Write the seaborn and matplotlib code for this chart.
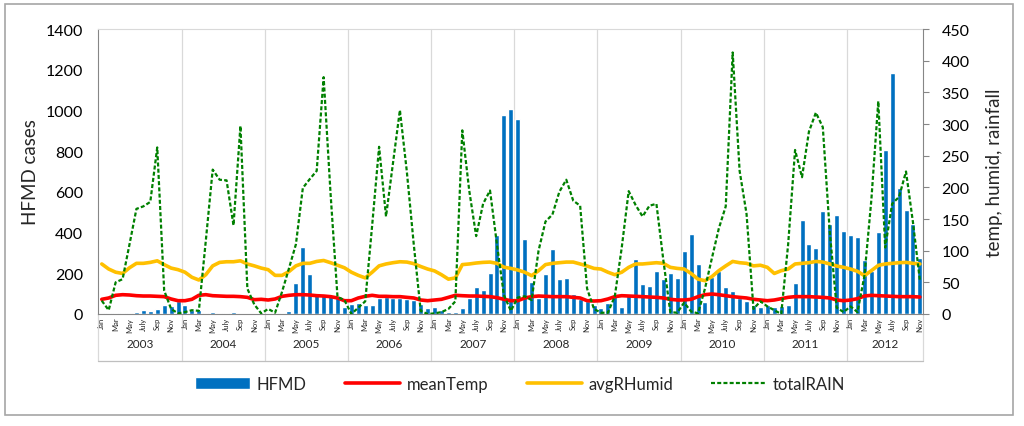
# %% HFMD cases vs weather, monthly 2003-2012 (recreated chart)
import numpy as np
import pandas as pd
import matplotlib
matplotlib.use('Agg')
import matplotlib.pyplot as plt
import matplotlib.transforms as mtransforms
from matplotlib.patches import Patch, Rectangle
from matplotlib.lines import Line2D
import seaborn as sns

# %%
# Data (2012 stops at Nov)
years = ['2003', '2004', '2005', '2006', '2007', '2008', '2009', '2010', '2011', '2012']
month_labels = ['Jan', 'Mar', 'May', 'July', 'Sep', 'Nov']

hfmd = [
    4, 3, 3, 4, 5, 12, 22, 14, 24, 45, 38, 63,            # 2003
    46, 21, 22, 3, 8, 4, 4, 10, 2, 2, 2, 2,               # 2004
    7, 5, 7, 14, 152, 329, 196, 97, 94, 90, 83, 36,       # 2005
    49, 56, 44, 44, 77, 82, 77, 77, 74, 69, 48, 28,       # 2006
    33, 20, 12, 9, 31, 79, 134, 118, 203, 386, 979, 1005, # 2007
    960, 367, 158, 80, 196, 319, 173, 176, 98, 73, 65, 45,  # 2008
    28, 52, 95, 36, 95, 268, 147, 137, 209, 172, 200, 175,  # 2009
    309, 392, 248, 60, 180, 209, 134, 111, 80, 62, 42, 35,  # 2010
    45, 33, 41, 42, 151, 464, 344, 323, 504, 442, 487, 409, # 2011
    387, 380, 263, 210, 404, 807, 1184, 619, 512, 442, 273, # 2012
]
mean_temp = [
    23.2, 25.3, 29.5, 30.5, 30.0, 28.9, 28.4, 28.4, 27.9, 27.4, 23.7, 21.0,
    21.0, 23.2, 29.5, 30.5, 28.9, 28.4, 27.9, 27.9, 27.4, 26.3, 22.6, 23.2,
    22.1, 23.7, 27.9, 29.5, 30.5, 30.5, 30.0, 28.9, 28.4, 27.4, 25.3, 21.0,
    21.0, 25.3, 27.9, 29.5, 27.9, 27.9, 27.4, 27.4, 26.3, 25.3, 22.1, 21.0,
    22.1, 23.2, 26.3, 29.5, 28.9, 28.4, 28.4, 27.9, 27.4, 25.8, 23.2, 21.0,
    21.0, 25.3, 27.4, 28.4, 27.9, 27.4, 27.4, 27.4, 26.3, 25.3, 21.0, 20.5,
    21.0, 23.7, 27.4, 28.9, 28.4, 27.9, 27.4, 26.8, 26.3, 25.3, 23.2, 22.1,
    22.1, 23.2, 27.4, 30.5, 31.6, 30.5, 28.9, 27.4, 26.3, 25.3, 23.2, 22.1,
    21.0, 22.1, 24.2, 26.3, 27.4, 27.4, 27.4, 26.8, 26.3, 25.3, 22.1, 21.0,
    22.1, 24.2, 28.4, 29.5, 28.9, 28.4, 27.9, 27.4, 27.4, 27.4, 26.8,
]
avg_humid = [
    79, 71, 66, 64, 73, 80, 80, 81.5, 84, 78, 72.5, 70,
    66, 58, 53.7, 62, 76, 81.5, 82.5, 82.5, 84, 79, 76, 72.5,
    70, 61, 61, 67, 76, 80, 80, 83, 84.5, 81, 77, 73,
    66, 61, 57, 66, 76, 79, 81, 82.5, 82, 79.5, 75, 71,
    68, 62, 55, 57, 78, 79, 80.5, 81.5, 82, 80, 74, 72,
    69.5, 66, 60.5, 68.4, 78, 80, 81, 82, 82, 79, 75.8, 72,
    71, 66, 62, 66, 73.7, 79, 79, 80, 81, 80, 73.7, 72,
    71, 64, 55, 52.6, 59, 68.4, 76, 83, 81, 80, 76, 77,
    73.7, 64, 68.4, 71, 79, 80, 81, 83, 82, 79, 75.8, 73.7,
    71, 67.4, 60.5, 68.4, 76.8, 79, 80, 81, 81.5, 80, 79,
]
total_rain = [
    21, 6, 50, 55, 110, 166, 170, 177, 263, 37, 8, 1,
    3, 6, 5, 115, 228, 212, 211, 140, 297, 40, 15, 1,
    8, 2, 35, 72, 110, 199, 213, 226, 374, 190, 27, 22,
    0, 10, 20, 140, 264, 154, 238, 322, 225, 110, 5, 0,
    1, 3, 8, 20, 290, 195, 123, 174, 195, 110, 30, 5,
    26, 28, 22, 100, 146, 157, 193, 212, 179, 171, 40, 8,
    2, 2, 28, 105, 194, 172, 154, 171, 174, 85, 3, 2,
    18, 4, 1, 40, 88, 135, 170, 413, 226, 158, 8, 20,
    12, 6, 0, 110, 259, 216, 288, 318, 295, 130, 10, 3,
    12, 3, 60, 180, 336, 105, 174, 185, 225, 145, 53,
]

df = pd.DataFrame({
    'month': np.arange(len(hfmd)),
    'HFMD': hfmd,
    'meanTemp': mean_temp,
    'avgRHumid': avg_humid,
    'totalRAIN': total_rain,
})
n = len(df)

# %%
# Style
sns.set_style('white')
plt.rcParams['font.family'] = ['Lato', 'DejaVu Sans']
blue, red, gold, green = '#0070C0', '#FF0000', '#FFC000', '#008000'
axis_grey, sep_grey = '#868686', '#D9D9D9'

fig = plt.figure(figsize=(10.24, 4.27), dpi=100)
ax = fig.add_axes([0.096, 0.2623, 0.8057, 0.6674])
ax2 = ax.twinx()

# %%
# Bars on the left axis, weather lines on the right axis
sns.barplot(data=df, x='month', y='HFMD', color=blue, width=0.72,
            saturation=1, ax=ax, zorder=2)
sns.lineplot(data=df, x='month', y='meanTemp', color=red, lw=2.6, ax=ax2)
sns.lineplot(data=df, x='month', y='avgRHumid', color=gold, lw=2.6, ax=ax2)
sns.lineplot(data=df, x='month', y='totalRAIN', color=green, lw=1.6,
             linestyle=(0, (1.8, 1.0)), ax=ax2)
for a in (ax, ax2):
    if a.get_legend() is not None:
        a.get_legend().remove()

ax.set_xlim(-0.5, n - 0.5)
ax.set_ylim(0, 1400)
ax2.set_ylim(0, 450)
ax.set_yticks(range(0, 1401, 200))
ax2.set_yticks(range(0, 451, 50))

# %%
# Axes cosmetics
for side in ['left', 'bottom']:
    ax.spines[side].set_color(axis_grey)
ax.spines['top'].set_color(sep_grey)
ax.spines['right'].set_visible(False)
for side in ['left', 'bottom', 'top']:
    ax2.spines[side].set_visible(False)
ax2.spines['right'].set_color(axis_grey)

ax.tick_params(axis='y', length=0, pad=11, labelsize=11.5, colors='black')
ax2.tick_params(axis='y', length=4, width=0.8, color=axis_grey, pad=9,
                labelsize=11.5, colors='black')
ax2.tick_params(axis='y', colors='black', color=axis_grey)
ax.set_ylabel('HFMD cases', fontsize=13.5, labelpad=5)
ax2.set_ylabel('temp, humid, rainfall', fontsize=13.5, labelpad=12)
ax.set_xlabel('')
ax2.set_xlabel('')

# month tick labels (every other month)
ax.set_xticks(np.arange(0, n, 2))
ax.set_xticklabels([month_labels[(i // 2) % 6] for i in range(0, n, 2)],
                   rotation=90, fontsize=5.5, va='top')
ax.tick_params(axis='x', length=0, pad=2)

# year labels and separators below the axis
trans = mtransforms.blended_transform_factory(ax.transData, ax.transAxes)
bottom = -0.165
starts = list(range(0, n, 12))
for i, yr in enumerate(years):
    x0 = starts[i] - 0.5
    x1 = min(starts[i] + 12, n) - 0.5
    ax.text((x0 + x1) / 2, -0.105, yr, transform=trans, ha='center',
            va='center', fontsize=8.5)
for x in [s - 0.5 for s in starts[1:]]:
    ax.plot([x, x], [1, bottom], transform=trans, color=sep_grey, lw=0.9,
            clip_on=False, zorder=0)
ax.plot([-0.5, -0.5], [0, bottom], transform=trans, color=sep_grey, lw=0.9,
        clip_on=False)
ax.plot([n - 0.5, n - 0.5], [0, bottom], transform=trans, color=sep_grey,
        lw=0.9, clip_on=False)
ax.plot([-0.5, n - 0.5], [bottom, bottom], transform=trans, color='#BFBFBF',
        lw=0.9, clip_on=False)

# %%
# Legend and outer frame
handles = [
    Patch(facecolor=blue, label='HFMD'),
    Line2D([], [], color=red, lw=2.6, label='meanTemp'),
    Line2D([], [], color=gold, lw=2.6, label='avgRHumid'),
    Line2D([], [], color=green, lw=1.6, linestyle=(0, (1.8, 1.0)), label='totalRAIN'),
]
fig.legend(handles=handles, loc='center', bbox_to_anchor=(0.508, 0.098),
           ncol=4, frameon=False, fontsize=12, handlelength=3.3,
           handletextpad=0.4, columnspacing=2.3)

fig.patches.append(Rectangle((5 / 1024, 11 / 427), 1008 / 1024, 411 / 427,
                             transform=fig.transFigure, fill=False,
                             edgecolor='#A6A6A6', lw=1.2))

fig.savefig('out.png', dpi=100)
